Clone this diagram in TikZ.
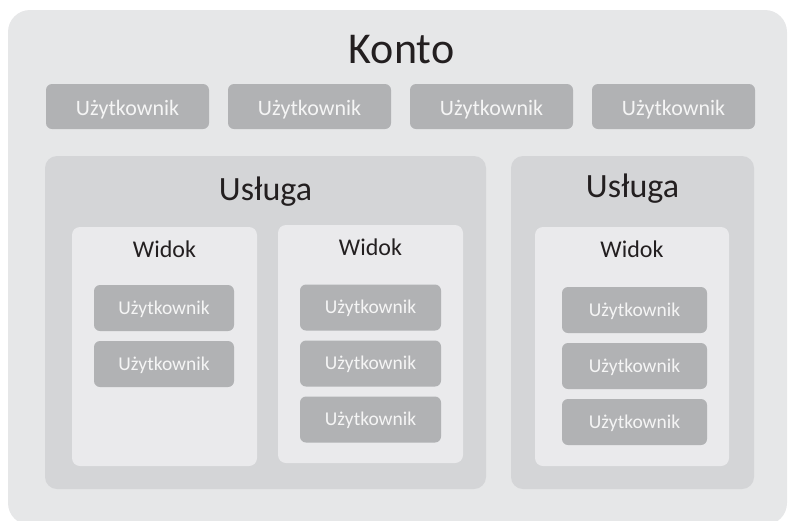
\documentclass[tikz,border=0pt]{standalone}
\usepackage{fontspec}
\setmainfont{Carlito}
\usepackage{xcolor}
\usetikzlibrary{positioning}

\definecolor{kontofill}{HTML}{E6E7E8}
\definecolor{uslugafill}{HTML}{D4D5D7}
\definecolor{widokfill}{HTML}{EAEAEC}
\definecolor{userfill}{HTML}{B1B2B4}
\definecolor{titletext}{HTML}{231F20}

\begin{document}
\begin{tikzpicture}[x=1pt,y=-1pt,node distance=182pt,
    every node/.style={inner sep=0pt,outer sep=0pt},
    konto box/.style={fill=kontofill,rounded corners=22pt},
    usluga box/.style={fill=uslugafill,rounded corners=12pt,minimum height=333pt},
    widok box/.style={fill=widokfill,rounded corners=8pt,minimum height=239pt},
    title/.style={anchor=base,text=titletext},
    user/.style={fill=userfill,rounded corners=6pt,text=white!96!black,font=\fontsize{22}{24}\selectfont,
        text height=17pt,text depth=0pt,minimum width=163pt,minimum height=45pt},
    small user/.style={user,font=\fontsize{19.5}{22}\selectfont,text height=12.5pt,minimum height=46pt}]

                    \useasboundingbox (0,0) rectangle (790,520);
                    \clip (0,0) rectangle (790,520);

                    % konto
                    \node[konto box,minimum width=779pt,minimum height=515pt] (konto) at (397.5,267.5) {};
                    \node[title,font=\fontsize{44}{48}\selectfont] (kontoT) at (401.5,63) {Konto};

                    \node[user] (u1) at (127.5,106.5) {Użytkownik};
                    \node[user] (u2) [right of=u1] {Użytkownik};
                    \node[user] (u3) [right of=u2] {Użytkownik};
                    \node[user] (u4) [right of=u3] {Użytkownik};

                    % uslugi
                    \node[usluga box,minimum width=441pt] (usl1) at (265.5,322.5) {};
                    \node[usluga box,minimum width=243pt] (usl2) at (632.5,322.5) {};
                    \node[title,font=\fontsize{34}{38}\selectfont] (usl1T) at (265.5,200) {Usługa};
                    \node[title,font=\fontsize{34}{38}\selectfont] (usl2T) at (632.5,197) {Usługa};

                    % widoki
                    \node[widok box,minimum width=185pt] (w1) at (164.5,346.5) {};
                    \node[widok box,minimum width=185pt,minimum height=238pt] (w2) at (370.5,344) {};
                    \node[widok box,minimum width=194pt] (w3) at (632,346.5) {};
                    \node[title,font=\fontsize{24}{28}\selectfont] (w1T) at (164.5,257) {Widok};
                    \node[title,font=\fontsize{24}{28}\selectfont] (w2T) at (370.5,255) {Widok};
                    \node[title,font=\fontsize{24}{28}\selectfont] (w3T) at (632,257) {Widok};

                    \begin{scope}[node distance=56pt]
                        \node[small user,minimum width=140pt] (w1u1) at (164,308) {Użytkownik};
                        \node[small user,minimum width=140pt] (w1u2) [below of=w1u1] {Użytkownik};

                        \node[small user,minimum width=141pt] (w2u1) at (370.5,307.5) {Użytkownik};
                        \node[small user,minimum width=141pt] (w2u2) [below of=w2u1] {Użytkownik};
                        \node[small user,minimum width=141pt] (w2u3) [below of=w2u2] {Użytkownik};

                        \node[small user,minimum width=145pt] (w3u1) at (634.5,310) {Użytkownik};
                        \node[small user,minimum width=145pt] (w3u2) [below of=w3u1] {Użytkownik};
                        \node[small user,minimum width=145pt] (w3u3) [below of=w3u2] {Użytkownik};
                    \end{scope}
                \end{tikzpicture}
\end{document}
